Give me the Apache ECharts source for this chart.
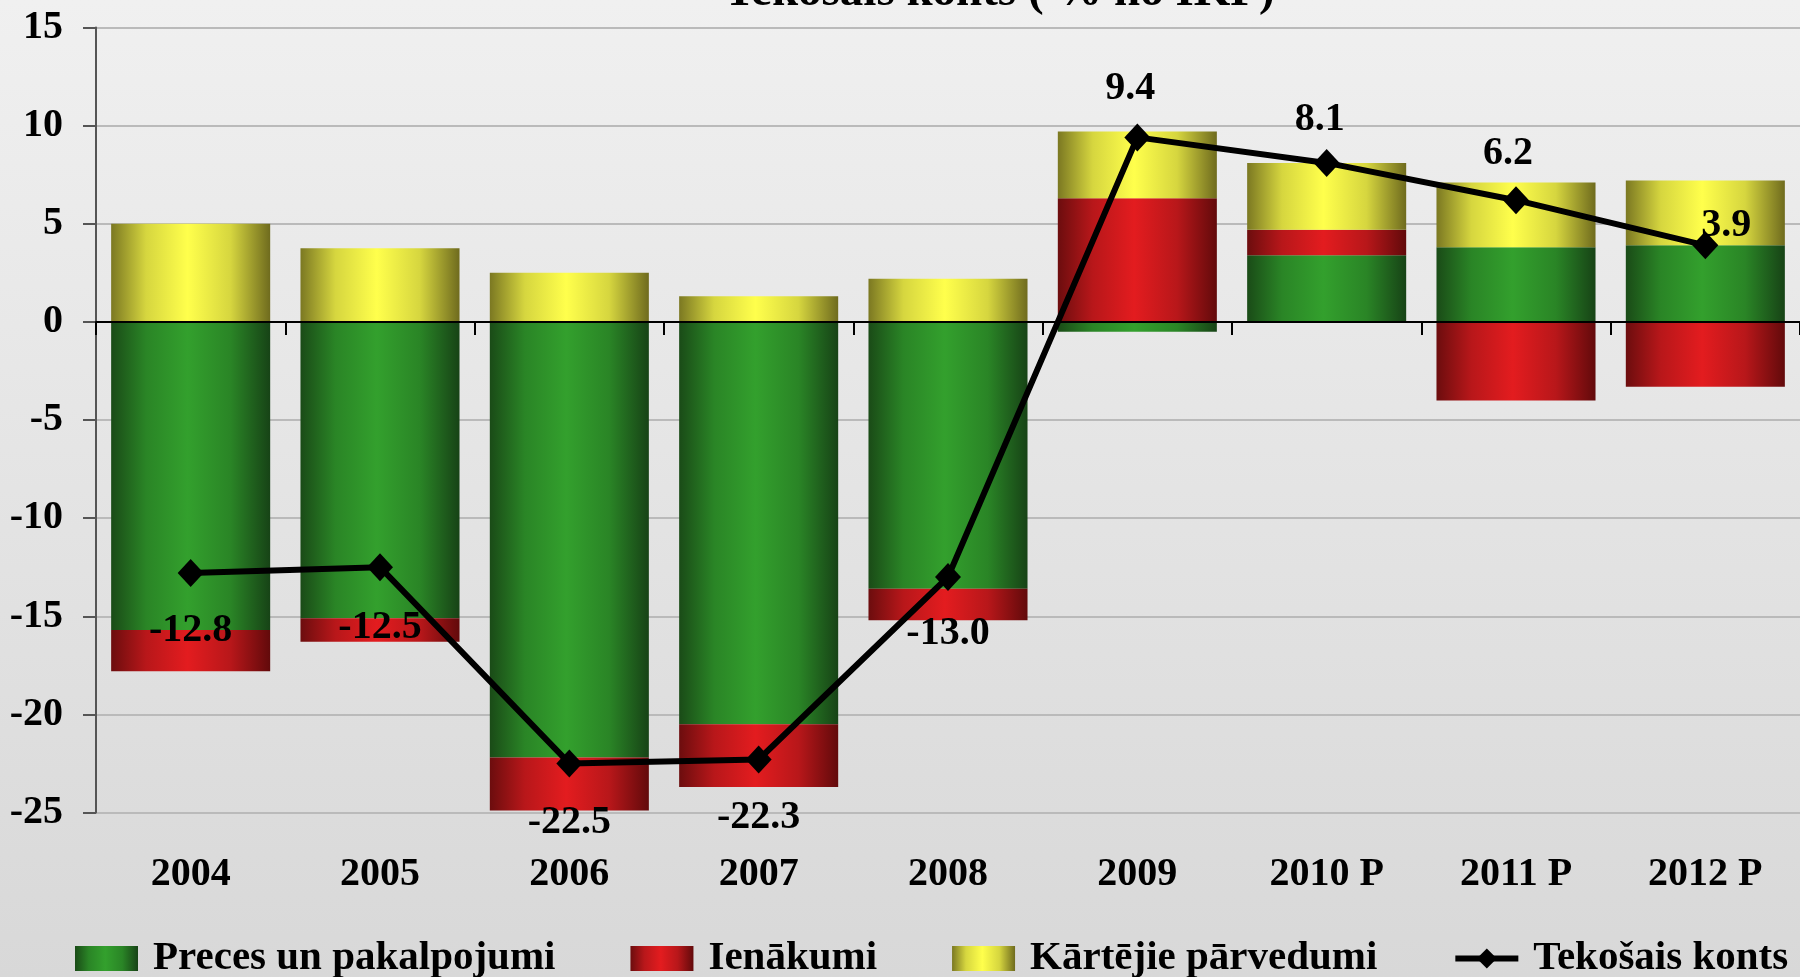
<!DOCTYPE html>
<html>
<head>
<meta charset="utf-8">
<script src="https://cdn.jsdelivr.net/npm/echarts@6/dist/echarts.min.js"></script>
<style>
html,body{margin:0;padding:0;}
#chart{width:1800px;height:977px;}
</style>
</head>
<body>
<div id="chart"></div>
<script>
// ---- data ----
const categories = ['2004', '2005', '2006', '2007', '2008', '2009', '2010 P', '2011 P', '2012 P'];
const precesValues = [-15.7, -15.1, -22.2, -20.5, -13.6, -0.5, 3.4, 3.8, 3.9];
const ienakumiValues = [-2.1, -1.2, -2.7, -3.2, -1.6, 6.3, 1.3, -4.0, -3.3];
const parvedumiValues = [5.0, 3.75, 2.5, 1.3, 2.2, 3.4, 3.4, 3.3, 3.3];
const kontsValues = [-12.8, -12.5, -22.5, -22.3, -13.0, 9.4, 8.1, 6.2, 3.9];
const yTicks = { min: -25, max: 15, step: 5 };
const seriesNames = ['Preces un pakalpojumi', 'Ienākumi', 'Kārtējie pārvedumi', 'Tekošais konts'];
const titleText = 'Tekošais konts ( % no IKP)';

// ---- styling (label placement for line values, px) ----
const labelOffsets = [[0, 58], [0, 60], [0, 59], [0, 58], [0, 57], [-7, -49], [-7, -43], [-8, -47], [21, -20]];

const FONT = 'Liberation Serif';

function grad(dark, mid, bright, darker) {
  return new echarts.graphic.LinearGradient(0, 0, 1, 0, [
    { offset: 0, color: dark },
    { offset: 0.22, color: mid },
    { offset: 0.48, color: bright },
    { offset: 0.75, color: mid },
    { offset: 1, color: darker }
  ]);
}
const greenG = grad('#1a4b17', '#2a8526', '#33a02d', '#174316');
const redG = grad('#6c0d0e', '#b8171a', '#e31c1f', '#620a0b');
const yellowG = grad('#7b7822', '#d6d63f', '#ffff4c', '#6f6b1e');

const chart = echarts.init(document.getElementById('chart'), null, { renderer: 'canvas' });

const lineData = kontsValues.map((v, i) => ({
  value: v,
  label: { offset: labelOffsets[i] }
}));

const option = {
  animation: false,
  backgroundColor: new echarts.graphic.LinearGradient(0, 0, 0, 1, [
    { offset: 0, color: '#f0f0f0' },
    { offset: 1, color: '#d8d8d8' }
  ]),
  title: {
    text: titleText,
    left: 724,
    top: -31,
    padding: 0,
    textStyle: { fontFamily: FONT, fontWeight: 'bold', fontSize: 47, color: '#000', lineHeight: 47 }
  },
  legend: {
    data: [
      { name: seriesNames[0], icon: 'rect' },
      { name: seriesNames[1], icon: 'rect' },
      { name: seriesNames[2], icon: 'rect' },
      { name: seriesNames[3], lineStyle: { width: 6 } }
    ],
    left: 75,
    top: 938,
    padding: 0,
    itemWidth: 63,
    itemHeight: 25,
    itemGap: 75,
    textStyle: { fontFamily: FONT, fontWeight: 'bold', fontSize: 41, color: '#000', padding: [0, 0, 0, 10] }
  },
  grid: { left: 96, top: 27.5, width: 1708, height: 785, containLabel: false },
  xAxis: [
    {
      type: 'category',
      data: categories,
      position: 'bottom',
      z: 5,
      axisLine: { onZero: true, lineStyle: { color: '#000', width: 2 } },
      axisTick: { show: true, length: 13, lineStyle: { color: '#000', width: 2 } },
      axisLabel: { show: false },
      splitLine: { show: false }
    },
    {
      type: 'category',
      data: categories,
      position: 'bottom',
      axisLine: { show: false, onZero: false },
      axisTick: { show: false },
      axisLabel: { margin: 42, fontFamily: FONT, fontWeight: 'bold', fontSize: 40, color: '#000' },
      splitLine: { show: false }
    }
  ],
  yAxis: {
    type: 'value',
    min: yTicks.min,
    max: yTicks.max,
    interval: yTicks.step,
    axisLine: { show: true, lineStyle: { color: '#555', width: 2 } },
    axisTick: { show: true, length: 13, lineStyle: { color: '#555', width: 2 } },
    axisLabel: { margin: 33, fontFamily: FONT, fontWeight: 'bold', fontSize: 40, color: '#000' },
    splitLine: { show: true, lineStyle: { color: '#bababa', width: 2 } }
  },
  series: [
    {
      name: seriesNames[0], type: 'bar', stack: 'ca', data: precesValues,
      barWidth: '84%', itemStyle: { color: greenG }
    },
    {
      name: seriesNames[1], type: 'bar', stack: 'ca', data: ienakumiValues,
      barWidth: '84%', itemStyle: { color: redG }
    },
    {
      name: seriesNames[2], type: 'bar', stack: 'ca', data: parvedumiValues,
      barWidth: '84%', itemStyle: { color: yellowG }
    },
    {
      name: seriesNames[3], type: 'line', data: lineData, z: 10,
      symbol: 'diamond', symbolSize: [26, 28],
      lineStyle: { color: '#000', width: 6 },
      itemStyle: { color: '#000' },
      label: {
        show: true, position: 'inside',
        formatter: p => p.value.toFixed(1),
        fontFamily: FONT, fontWeight: 'bold', fontSize: 40, color: '#000'
      }
    }
  ]
};
chart.setOption(option);
</script>
</body>
</html>
